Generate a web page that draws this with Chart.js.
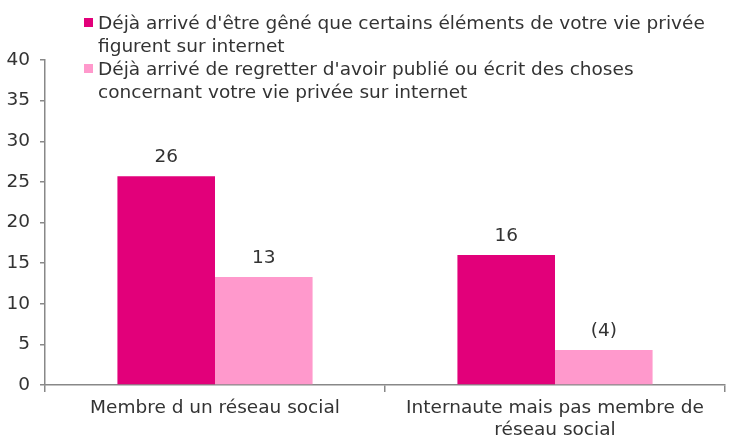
<!DOCTYPE html>
<html>
<head>
<meta charset="utf-8">
<script src="https://cdn.jsdelivr.net/npm/chart.js@4"></script>
<style>
  html, body { margin: 0; padding: 0; background: #fff; }
  #wrap { position: relative; width: 743px; height: 442px; }
  #legend { position: absolute; left: 84px; top: 11px; font-family: 'DejaVu Sans', sans-serif; font-size: 18.5px; color: #333; line-height: 23px; }
  .item { position: relative; padding-left: 14px; width: 650px; white-space: nowrap; }
  .sw { position: absolute; left: 0; top: 7px; width: 9px; height: 9px; }
</style>
</head>
<body>
<div id="wrap">
  <canvas id="c" width="743" height="442"></canvas>
  <div id="legend"></div>
</div>
<script>
const categories = [["Membre d un réseau social"], ["Internaute mais pas membre de", "réseau social"]];
const seriesNames = [
  "Déjà arrivé d'être gêné que certains éléments de votre vie privée figurent sur internet",
  "Déjà arrivé de regretter d'avoir publié ou écrit des choses concernant votre vie privée sur internet"
];
const legendLines = [
  ["Déjà arrivé d'être gêné que certains éléments de votre vie privée", "figurent sur internet"],
  ["Déjà arrivé de regretter d'avoir publié ou écrit des choses", "concernant votre vie privée sur internet"]
];
const seriesA = [25.7, 16.0];
const seriesB = [13.3, 4.3];
const labelsA = ["26", "16"];
const labelsB = ["13", "(4)"];
const colors = ["#E2007A", "#FF99CC"];
const yTicks = [0, 5, 10, 15, 20, 25, 30, 35, 40];

const FONT = "'DejaVu Sans', sans-serif";
const FSIZE = 18.5;

// HTML legend
const leg = document.getElementById('legend');
legendLines.forEach((lines, i) => {
  const d = document.createElement('div');
  d.className = 'item';
  d.innerHTML = '<span class="sw" style="background:' + colors[i] + '"></span>' + lines.join('<br>');
  leg.appendChild(d);
});

const valueLabels = {
  id: 'valueLabels',
  afterDatasetsDraw(chart) {
    const ctx = chart.ctx;
    ctx.save();
    ctx.font = FSIZE + 'px ' + FONT;
    ctx.fillStyle = '#333';
    ctx.textAlign = 'center';
    ctx.textBaseline = 'middle';
    const all = [labelsA, labelsB];
    chart.data.datasets.forEach((ds, di) => {
      chart.getDatasetMeta(di).data.forEach((bar, i) => {
        ctx.fillText(all[di][i], bar.x, bar.y - 19);
      });
    });
    ctx.restore();
  }
};

new Chart(document.getElementById('c'), {
  type: 'bar',
  data: {
    labels: categories,
    datasets: [
      { label: seriesNames[0], data: seriesA, backgroundColor: colors[0], categoryPercentage: 0.574, barPercentage: 1.0 },
      { label: seriesNames[1], data: seriesB, backgroundColor: colors[1], categoryPercentage: 0.574, barPercentage: 1.0 }
    ]
  },
  options: {
    responsive: false,
    animation: false,
    layout: { padding: { left: 0, right: 18, top: 60, bottom: 0 } },
    plugins: { legend: { display: false }, tooltip: { enabled: false } },
    scales: {
      x: {
        afterFit: s => { s.height = 57; },
        grid: { offset: true, drawOnChartArea: false, drawTicks: true, tickLength: 7, color: '#888', lineWidth: 1.5 },
        border: { color: '#888', width: 1.5 },
        ticks: { font: { family: FONT, size: FSIZE }, color: '#333', padding: 5, maxRotation: 0 }
      },
      y: {
        min: 0, max: 40,
        afterFit: s => { s.width = 45; },
        afterBuildTicks: s => { s.ticks = yTicks.map(v => ({ value: v })); },
        grid: { drawOnChartArea: false, drawTicks: true, tickLength: 5, color: '#888', lineWidth: 1.5 },
        border: { color: '#888', width: 1.5 },
        ticks: { font: { family: FONT, size: FSIZE }, color: '#333', padding: 10 }
      }
    }
  },
  plugins: [valueLabels]
});
</script>
</body>
</html>
